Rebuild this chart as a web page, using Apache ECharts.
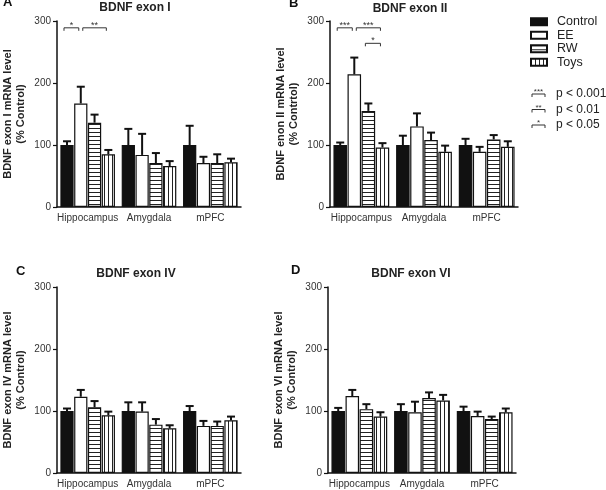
<!DOCTYPE html>
<html>
<head>
<meta charset="utf-8">
<script src="https://cdn.jsdelivr.net/npm/echarts@6/dist/echarts.min.js"></script>
<style>
  html, body { margin: 0; padding: 0; background: #fff; }
  #chart { width: 606px; height: 490px; }
</style>
</head>
<body>
<div id="chart"></div>
<script>
const regions = ['Hippocampus', 'Amygdala', 'mPFC'];
const groups = ['Control', 'EE', 'RW', 'Toys'];

// means, rows = Control, EE, RW, Toys ; cols = regions
const exonIMean = [[100, 100, 100], [167, 84, 71], [136, 71, 71], [85, 66, 72]];
const exonIErr = [[6, 26, 31], [27, 34, 10], [13, 16, 14], [7, 8, 6]];
const exonIIMean = [[100, 100, 100], [214, 130, 89], [155, 108, 109], [96, 89, 97]];
const exonIIErr = [[4, 15, 10], [27, 21, 8], [12, 12, 7], [7, 10, 9]];
const exonIVMean = [[100, 100, 100], [123, 99, 76], [106, 78, 76], [93, 72, 85]];
const exonIVErr = [[4, 14, 8], [11, 15, 8], [10, 9, 7], [6, 5, 6]];
const exonVIMean = [[100, 100, 100], [124, 98, 92], [103, 121, 87], [91, 117, 98]];
const exonVIErr = [[5, 11, 7], [10, 17, 7], [8, 9, 4], [7, 9, 6]];

// significance: [region, fromGroup, toGroup, level, stars]
const sigI = [[0, 0, 1, 0, '*'], [0, 1, 3, 0, '**']];
const sigII = [[0, 0, 1, 0, '***'], [0, 1, 3, 0, '***'], [0, 2, 3, 1, '*']];

const pKeyStars = ['***', '**', '*'];
const pKeyLabels = ['p < 0.001', 'p < 0.01', 'p < 0.05'];

const FONT = '"Liberation Sans", Arial, sans-serif';
const CAT_GAP = 0.11;
const BAR_GAP = 0.04;
const SIG_BASE = 289;
const SIG_STEP = 25;

function stripes(dir) {
  const c = document.createElement('canvas');
  c.width = 4; c.height = 4;
  const ctx = c.getContext('2d');
  ctx.fillStyle = '#fff';
  ctx.fillRect(0, 0, 4, 4);
  ctx.fillStyle = '#222';
  if (dir === 'h') ctx.fillRect(0, 0, 4, 1);
  else ctx.fillRect(0, 0, 1, 4);
  return c;
}

const fills = ['#111', '#fff',
  { image: stripes('h'), repeat: 'repeat' },
  { image: stripes('v'), repeat: 'repeat' }];

const panels = [
  { mean: exonIMean, err: exonIErr, sig: sigI, title: 'BDNF exon I', yName: 'BDNF exon I mRNA level\n(% Control)',
    letter: 'A', left: 53, top: 21, titleX: 135, titleY: 2, letterX: 3, letterY: -4 },
  { mean: exonIIMean, err: exonIIErr, sig: sigII, title: 'BDNF exon II', yName: 'BDNF enon II mRNA level\n(% Contrtol)',
    letter: 'B', left: 330, top: 21, titleX: 410, titleY: 3, letterX: 289, letterY: -3 },
  { mean: exonIVMean, err: exonIVErr, sig: [], title: 'BDNF exon IV', yName: 'BDNF exon IV mRNA level\n(% Control)',
    letter: 'C', left: 53, top: 287, titleX: 136, titleY: 268, letterX: 16, letterY: 265 },
  { mean: exonVIMean, err: exonVIErr, sig: [], title: 'BDNF exon VI', yName: 'BDNF exon VI mRNA level\n(% Control)',
    letter: 'D', left: 328, top: 287, titleX: 411, titleY: 268, letterX: 291, letterY: 264 }
];

// center x of a bar inside its category band
function barCenter(api, region, g) {
  const band = api.size([1, 0])[0];
  const total = band * (1 - CAT_GAP);
  const bw = total / (4 + 3 * BAR_GAP);
  const c = api.coord([region, 0])[0];
  return c - total / 2 + g * bw * (1 + BAR_GAP) + bw / 2;
}

const grid = [], xAxis = [], yAxis = [], series = [], title = [], graphic = [];

panels.forEach((p, i) => {
  grid.push({ left: p.left, top: p.top, width: 188, height: 186 });
  xAxis.push({
    type: 'category', gridIndex: i, data: regions,
    axisLine: { lineStyle: { color: '#111', width: 1.5 } },
    axisTick: { show: false },
    axisLabel: { interval: 0, fontSize: 10, color: '#333', margin: 6, fontFamily: FONT }
  });
  yAxis.push({
    type: 'value', gridIndex: i, min: 0, max: 300, interval: 100,
    splitLine: { show: false },
    axisLine: { show: true, lineStyle: { color: '#111', width: 1.5 } },
    axisTick: { show: true, length: 4, lineStyle: { color: '#111', width: 1.2 } },
    axisLabel: { fontSize: 10, color: '#333', margin: 6, fontFamily: FONT },
    name: p.yName, nameLocation: 'middle', nameGap: 30, nameRotate: 90,
    nameTextStyle: { fontSize: 11, fontWeight: 'bold', color: '#222', lineHeight: 13, fontFamily: FONT }
  });
  title.push({
    text: p.title, left: p.titleX, top: p.titleY, textAlign: 'center', padding: 0,
    textStyle: { fontSize: 12, fontWeight: 'bold', color: '#222', fontFamily: FONT }
  });
  graphic.push({
    type: 'text', left: p.letterX, top: p.letterY,
    style: { text: p.letter, font: 'bold 13px ' + FONT, fill: '#111' }
  });

  groups.forEach((g, gi) => {
    series.push({
      name: g, type: 'bar', xAxisIndex: i, yAxisIndex: i,
      data: p.mean[gi],
      barGap: (BAR_GAP * 100) + '%', barCategoryGap: (CAT_GAP * 100) + '%',
      itemStyle: { color: fills[gi], borderColor: '#111', borderWidth: 1.2 },
      emphasis: { disabled: true }
    });
  });

  // error bars (upper only)
  const errData = [];
  for (let r = 0; r < regions.length; r++) {
    for (let g = 0; g < groups.length; g++) {
      errData.push([r, g, p.mean[g][r], p.err[g][r]]);
    }
  }
  series.push({
    type: 'custom', xAxisIndex: i, yAxisIndex: i, z: 5,
    encode: { x: 0, y: 2 },
    data: errData,
    renderItem(params, api) {
      const r = api.value(0), g = api.value(1), m = api.value(2), e = api.value(3);
      const cx = barCenter(api, r, g);
      const y0 = api.coord([r, m])[1];
      const y1 = api.coord([r, m + e])[1];
      const st = { stroke: '#111', lineWidth: 2 };
      return {
        type: 'group', children: [
          { type: 'line', shape: { x1: cx, y1: y0, x2: cx, y2: y1 }, style: st },
          { type: 'line', shape: { x1: cx - 4, y1: y1, x2: cx + 4, y2: y1 }, style: st }
        ]
      };
    }
  });

  // significance brackets
  if (p.sig.length) {
    const sig = p.sig;
    series.push({
      type: 'custom', xAxisIndex: i, yAxisIndex: i, z: 5, clip: false,
      encode: { x: 0, y: 3 },
      data: sig.map(s => [s[0], s[1], s[2], s[3]]),
      renderItem(params, api) {
        const s = sig[params.dataIndex];
        const shared = sig.some(o => o !== s && o[2] === s[1] && o[3] === s[3]);
        const x1 = barCenter(api, s[0], s[1]) + (shared ? 2 : -3);
        const x2 = barCenter(api, s[0], s[2]) - 2;
        const y = api.coord([s[0], SIG_BASE - s[3] * SIG_STEP])[1];
        return {
          type: 'group', children: [
            { type: 'polyline', shape: { points: [[x1, y + 3], [x1, y], [x2, y], [x2, y + 3]] },
              style: { stroke: '#333', lineWidth: 1, fill: null } },
            { type: 'text', x: (x1 + x2) / 2, y: y + 2,
              style: { text: s[4], font: '9px ' + FONT, fill: '#333', align: 'center', verticalAlign: 'bottom' } }
          ]
        };
      }
    });
  }
});

// p-value key
pKeyLabels.forEach((lab, k) => {
  const y = 94 + k * 15.5;
  graphic.push({
    type: 'polyline', shape: { points: [[532, y + 3], [532, y], [545, y], [545, y + 3]] },
    style: { stroke: '#333', lineWidth: 1, fill: null }
  });
  graphic.push({
    type: 'text', x: 538.5, y: y + 2,
    style: { text: pKeyStars[k], font: '8px ' + FONT, fill: '#333', align: 'center', verticalAlign: 'bottom' }
  });
  graphic.push({
    type: 'text', x: 556, y: y,
    style: { text: lab, font: '12px ' + FONT, fill: '#222', verticalAlign: 'middle' }
  });
});

const chart = echarts.init(document.getElementById('chart'), null, { renderer: 'canvas' });
chart.setOption({
  animation: false,
  textStyle: { fontFamily: FONT },
  title: title,
  legend: {
    orient: 'vertical', left: 530, top: 15, itemWidth: 16, itemHeight: 7, itemGap: 0,
    icon: 'rect', selectedMode: false, data: groups, padding: 0,
    textStyle: { fontSize: 12.5, lineHeight: 13.5, color: '#222', fontFamily: FONT, padding: [0, 0, 0, 5] }
  },
  grid: grid,
  xAxis: xAxis,
  yAxis: yAxis,
  series: series,
  graphic: graphic
});
</script>
</body>
</html>
